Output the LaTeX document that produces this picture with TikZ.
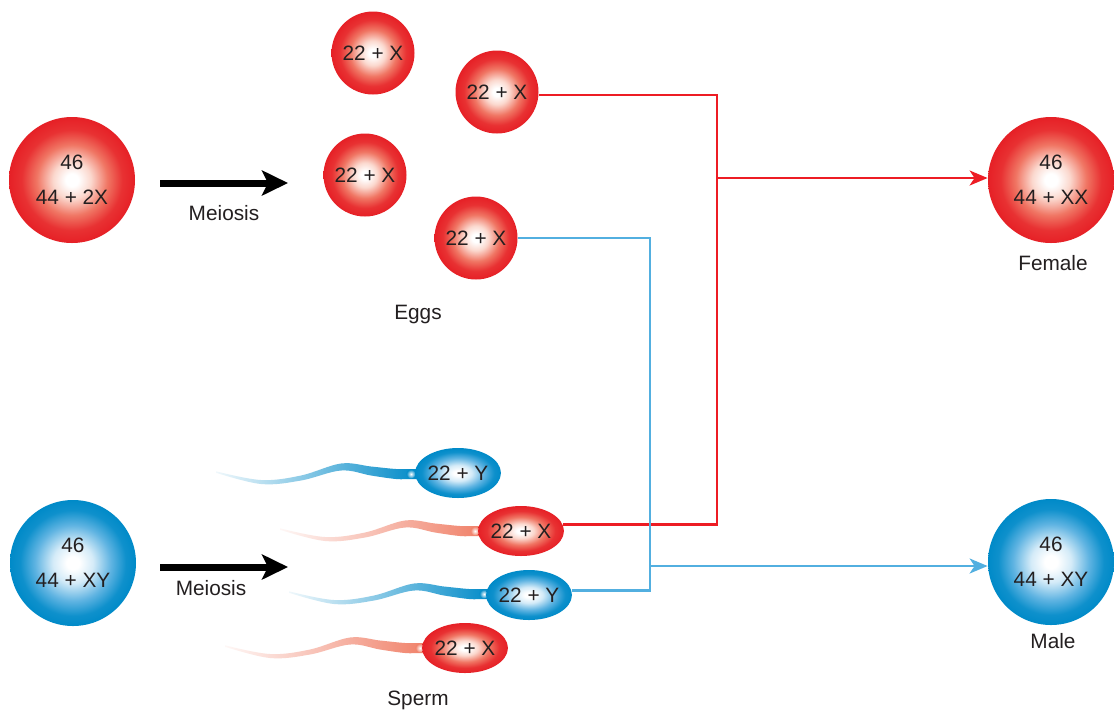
\documentclass[tikz,border=0pt]{standalone}
\usepackage{fontspec}
\setmainfont{Liberation Sans}
\usetikzlibrary{arrows.meta,shapes.geometric}

\definecolor{cellred}{RGB}{230,32,38}
\definecolor{redmid}{RGB}{240,118,100}
\definecolor{redlight}{RGB}{251,216,206}
\definecolor{cellblue}{RGB}{0,138,200}
\definecolor{bluemid}{RGB}{96,180,226}
\definecolor{bluelight}{RGB}{212,235,248}
\definecolor{tailred}{RGB}{240,128,104}
\definecolor{linered}{RGB}{237,28,36}
\definecolor{lineblue}{RGB}{82,175,224}
\definecolor{ink}{RGB}{35,31,32}

% glossy cell shadings: white core fading smoothly to a saturated rim
\pgfdeclareradialshading{redball}{\pgfpointorigin}{%
  color(0bp)=(white); color(2.5bp)=(white); color(7.5bp)=(redlight); color(14bp)=(redmid);
  color(20bp)=(cellred!80!redmid); color(25bp)=(cellred); color(50bp)=(cellred)}
\pgfdeclareradialshading{blueball}{\pgfpointorigin}{%
  color(0bp)=(white); color(2.5bp)=(white); color(8bp)=(bluelight); color(15bp)=(bluemid);
  color(21bp)=(cellblue!85!bluemid); color(25bp)=(cellblue); color(50bp)=(cellblue)}

\tikzset{
  txt/.style={font=\fontsize{10.4}{12.4}\selectfont, text=ink},
  lbl/.style={txt, inner sep=0pt},
  cell/.style={circle, inner sep=0pt, minimum size=63pt, align=center,
    font=\fontsize{10.4}{17.5}\selectfont, text=ink, shade, shading=#1},
  egg/.style={circle, inner sep=0pt, minimum size=41.5pt, txt, shade, shading=redball},
  spermhead/.style={ellipse, inner sep=0pt, minimum width=42pt, minimum height=25pt,
    txt, shade, shading=#1},
  redln/.style={draw=linered, line width=1.15pt},
  blueln/.style={draw=lineblue, line width=1.15pt},
  tipc/.style={-{Stealth[length=9pt,width=7.5pt,inset=2.5pt]}},
  meiosis/.style={draw=black, line width=3.5pt,
    -{Stealth[length=13pt,width=12.5pt,inset=3pt]}},
  % tapering flagellum, drawn leftwards from the neck at the origin
  pics/spermtail/.style={code={
    \shade[left color=#1!6!white, right color=#1]
      plot[smooth, tension=0.6] coordinates {(-195,-2.7) (-150,6) (-110,1.5) (-70,-10.5)
        (-40,-7.5) (-15,-5) (0,-5) (8,-5)}
      -- plot[smooth, tension=0.6] coordinates {(8,5) (0,5) (-15,5) (-40,1.5)
        (-70,-3.5) (-110,6.5) (-150,10) (-195,-1.3)} -- cycle;
    \shade[inner color=white, outer color=#1] (0,0) circle[radius=2.3pt];
  }}
}

\begin{document}
\begin{tikzpicture}[x=0.5pt, y=-0.5pt]
\useasboundingbox (0,0) rectangle (1114,709);
\fill[white] (0,0) rectangle (1114,709);

% parent cells and offspring
\node[cell=redball]  (mom)  at (72,180)   {46\\44 + 2X};
\node[cell=blueball] (dad)  at (73,563)   {46\\44 + XY};
\node[cell=redball]  (fem)  at (1051,180) {46\\44 + XX};
\node[cell=blueball] (male) at (1051,562) {46\\44 + XY};
\node[lbl, anchor=base] (femlbl)  at (1053,270) {Female};
\node[lbl, anchor=base] (malelbl) at (1053,648) {Male};

% meiosis arrows
\coordinate (m1s) at (160,183); \coordinate (m1e) at (288,183);
\coordinate (m2s) at (160,567); \coordinate (m2e) at (288,567);
\draw[meiosis] (m1s) -- (m1e);
\draw[meiosis] (m2s) -- (m2e);
\node[lbl, anchor=base] (mei1) at (224,220) {Meiosis};
\node[lbl, anchor=base] (mei2) at (211,595) {Meiosis};

% eggs
\node[egg] (e1) at (373,53)  {22 + X};
\node[egg] (e2) at (497,92)  {22 + X};
\node[egg] (e3) at (365,175) {22 + X};
\node[egg] (e4) at (476,238) {22 + X};
\node[lbl, anchor=base] (eggs) at (418,319) {Eggs};

% sperm
\pic at (411,474) {spermtail=cellblue};
\node[spermhead=blueball] (s1) at (458,473) {22 + Y};
\pic at (475,531) {spermtail=tailred};
\node[spermhead=redball] (s2) at (521,531) {22 + X};
\pic at (484,594) {spermtail=cellblue};
\node[spermhead=blueball] (s3) at (529,595) {22 + Y};
\pic at (420,648) {spermtail=tailred};
\node[spermhead=redball] (s4) at (465,648) {22 + X};
\node[lbl, anchor=base] (sperm) at (418,705) {Sperm};

% fertilisation connectors
\coordinate (jr) at (717,178);
\coordinate (jb) at (650,566);
\draw[redln] (e2.-4) -| (jr) |- (s2.9);
\draw[redln, tipc] (jr) -- (jr -| fem.west);
\draw[blueln] (e4.east) -| (jb) |- (s3.6);
\draw[blueln, tipc] (jb) -- (jb -| male.west);
\end{tikzpicture}
\end{document}
